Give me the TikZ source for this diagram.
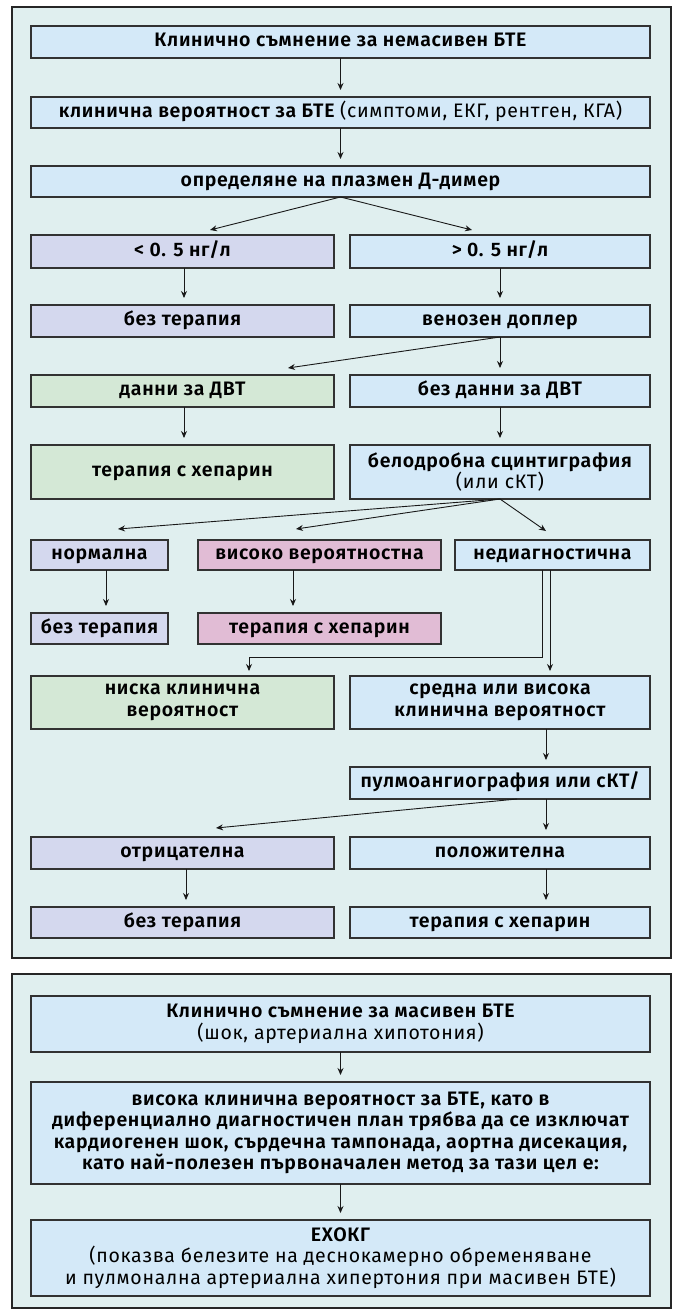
\documentclass[tikz,border=0pt]{standalone}
\usepackage{fontspec}
\setmainfont{Fira Sans}[BoldFont={Fira Sans SemiBold},LetterSpace=3.5]
\usetikzlibrary{arrows.meta,calc}
\definecolor{panelbg}{RGB}{224,239,239}
\definecolor{cblue}{RGB}{212,233,248}
\definecolor{clav}{RGB}{212,216,238}
\definecolor{cgreen}{RGB}{212,232,214}
\definecolor{cpink}{RGB}{225,188,213}
\definecolor{edge}{RGB}{50,50,50}
\begin{document}
\begin{tikzpicture}[x=1pt,y=-1pt,
  box/.style={draw=edge,line width=1.2pt,inner sep=0pt,outer sep=0pt,align=center,
    font=\fontsize{19.5}{21.5}\selectfont\bfseries},
  one/.style={box,text height=13.5pt,text depth=4.5pt},
  panel/.style={draw=black!85,line width=1.6pt,fill=panelbg},
  arr/.style={draw=black!90,line width=0.9pt,-{Stealth[length=7pt,width=6pt]}},
  varr/.style={arr,shorten >=7pt}]
\useasboundingbox (0,0) rectangle (675,1309);
\path[panel] (12,7) rectangle (671,958);
\path[panel] (12,974) rectangle (671,1308);
% column x helpers
\coordinate (xL) at (184,0);
\coordinate (xLb) at (186,0);
\coordinate (xR) at (500,0);
\coordinate (xR2) at (546,0);
\coordinate (xN) at (106,0);
\coordinate (xV) at (293,0);
\coordinate (xD1) at (542,0);
\coordinate (xD2) at (550,0);
\coordinate (xE) at (249,0);
\coordinate (xP) at (517,0);
% boxes
\node[one,fill=cblue,minimum width=619pt,minimum height=32pt] (b1) at (340.5,42) {Клинично съмнение за немасивен БТЕ};
\node[one,fill=cblue,minimum width=619pt,minimum height=31pt] (b2) at (340.5,112.5) {клинична вероятност за БТЕ \mdseries(симптоми, ЕКГ, рентген, КГА)};
\node[one,fill=cblue,minimum width=619pt,minimum height=31pt] (b3) at (340.5,181.5) {определяне на плазмен Д-димер};
\node[one,fill=clav,minimum width=303pt,minimum height=33pt] (r4l) at (182.5,251.5) {< 0. 5 нг/л};
\node[one,fill=cblue,minimum width=300pt,minimum height=33pt] (r4r) at (500,251.5) {> 0. 5 нг/л};
\node[one,fill=clav,minimum width=303pt,minimum height=32pt] (r5l) at (182.5,321) {без терапия};
\node[one,fill=cblue,minimum width=300pt,minimum height=32pt] (r5r) at (500,321) {венозен доплер};
\node[one,fill=cgreen,minimum width=303pt,minimum height=32pt] (r6l) at (182.5,391) {данни за ДВТ};
\node[one,fill=cblue,minimum width=300pt,minimum height=32pt] (r6r) at (500,391) {без данни за ДВТ};
\node[one,fill=cgreen,minimum width=303pt,minimum height=54pt] (r7l) at (182.5,472) {терапия с хепарин};
\node[box,fill=cblue,minimum width=300pt,minimum height=54pt] (r7r) at (500,472) {белодробна сцинтиграфия\\\mdseries(или сКТ)};
\node[one,fill=clav,minimum width=137pt,minimum height=30pt] (r8a) at (99.5,555) {нормална};
\node[one,fill=cpink,minimum width=243pt,minimum height=30pt] (r8b) at (319.5,555) {високо вероятностна};
\node[one,fill=cblue,minimum width=195pt,minimum height=30pt] (r8c) at (552.5,555) {недиагностична};
\node[one,fill=clav,minimum width=137pt,minimum height=31pt] (r9a) at (99.5,628.5) {без терапия};
\node[one,fill=cpink,minimum width=243pt,minimum height=31pt] (r9b) at (319.5,628.5) {терапия с хепарин};
\node[box,fill=cgreen,minimum width=303pt,minimum height=53pt] (r10l) at (182.5,702.5) {ниска клинична\\вероятност};
\node[box,fill=cblue,minimum width=300pt,minimum height=53pt] (r10r) at (500,702.5) {средна или висока\\клинична вероятност};
\node[one,fill=cblue,minimum width=300pt,minimum height=32pt] (r11) at (500,783) {пулмоангиография или сКТ/};
\node[one,fill=clav,minimum width=303pt,minimum height=32pt] (r12l) at (182.5,853) {отрицателна};
\node[one,fill=cblue,minimum width=300pt,minimum height=32pt] (r12r) at (500,853) {положителна};
\node[one,fill=clav,minimum width=303pt,minimum height=31pt] (r13l) at (182.5,922.5) {без терапия};
\node[one,fill=cblue,minimum width=300pt,minimum height=31pt] (r13r) at (500,922.5) {терапия с хепарин};
% panel 2
\node[box,fill=cblue,minimum width=619pt,minimum height=56pt] (pA) at (340.5,1024) {Клинично съмнение за масивен БТЕ\\\mdseries(шок, артериална хипотония)};
\node[box,fill=cblue,minimum width=619pt,minimum height=102pt] (pB) at (340.5,1133) {висока клинична вероятност за БТЕ, като в\\диференциално диагностичен план трябва да се изключат\\кардиогенен шок, сърдечна тампонада, аортна дисекация,\\като най-полезен първоначален метод за тази цел е:};
\node[box,fill=cblue,minimum width=619pt,minimum height=76pt] (pC) at (340.5,1258) {ЕХОКГ\\\mdseries(показва белезите на деснокамерно обременяване\\\mdseries и пулмонална артериална хипертония при масивен БТЕ)};
% arrow tips
\coordinate (t4l) at (210,230);
\coordinate (t4r) at (472,230);
\coordinate (t6l) at (288,368);
\coordinate (t8a) at (118,529);
\coordinate (t8b) at (296,529);
\coordinate (t8c) at (546,531);
\coordinate (elb) at (249,657);
\coordinate (t12l) at (216,828);
% connectors
\draw[varr] (b1) -- (b2);
\draw[varr] (b2) -- (b3);
\draw[arr] (b3.south) -- (t4l);
\draw[arr] (b3.south) -- (t4r);
\draw[varr] (r4l.south -| xL) -- (r5l.north -| xL);
\draw[varr] (r4r.south -| xR) -- (r5r.north -| xR);
\draw[varr] (r5r.south -| xR) -- (r6r.north -| xR);
\draw[arr] (r5r.south -| xR) -- (t6l);
\draw[varr] (r6l.south -| xL) -- (r7l.north -| xL);
\draw[varr] (r6r.south -| xR) -- (r7r.north -| xR);
\draw[arr] (r7r.south -| xR) -- (t8a);
\draw[arr] (r7r.south -| xR) -- (t8b);
\draw[arr] (r7r.south -| xR) -- (t8c);
\draw[varr] (r8a.south -| xN) -- (r9a.north -| xN);
\draw[varr] (r8b.south -| xV) -- (r9b.north -| xV);
\draw[arr] (r8c.south -| xD1) |- (elb) -- ($(r10l.north -| xE)+(0,-5)$);
\draw[arr] (r8c.south -| xD2) -- ($(r10r.north -| xD2)+(0,-5)$);
\draw[varr] (r10r.south -| xR2) -- (r11.north -| xR2);
\draw[arr] (r11.south -| xP) -- (t12l);
\draw[varr] (r11.south -| xR2) -- (r12r.north -| xR2);
\draw[varr] (r12l.south -| xLb) -- (r13l.north -| xLb);
\draw[varr] (r12r.south -| xR2) -- (r13r.north -| xR2);
\draw[varr] (pA) -- (pB);
\draw[varr] (pB) -- (pC);
\end{tikzpicture}
\end{document}
